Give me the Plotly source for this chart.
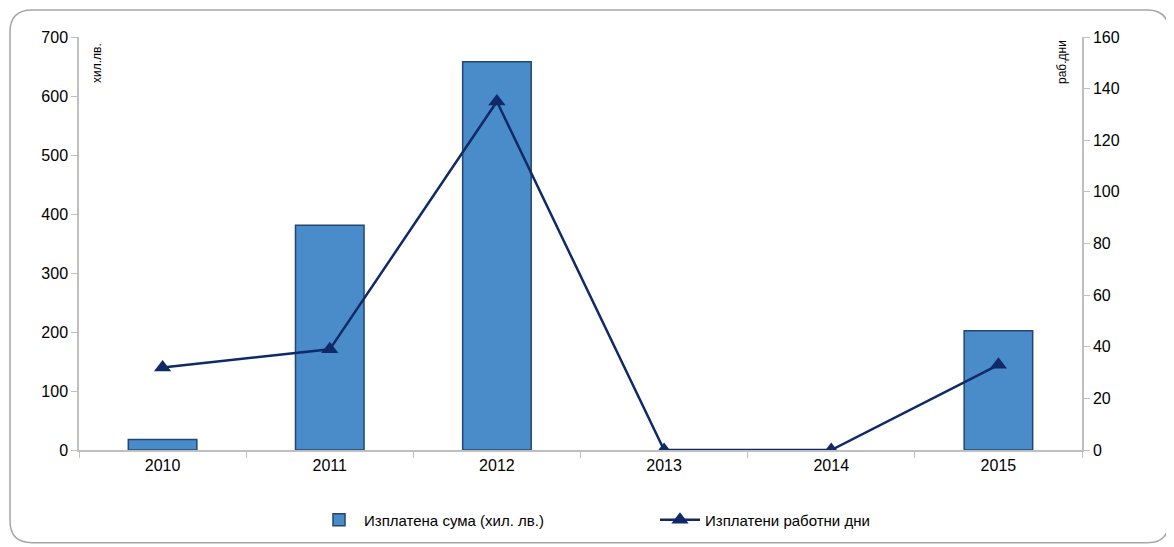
import plotly.graph_objects as go

years = ["2010", "2011", "2012", "2013", "2014", "2015"]
amount = [18, 381, 658, 0, 0, 202]          # хил. лв.
days = [32, 39, 135, 0, 0, 33]              # раб. дни

bar_name = "Изплатена сума (хил. лв.)"
line_name = "Изплатени работни дни"

# figure is drawn at an 8px page offset
W, H = 1166, 539
ml, mr, mt, mb = 71, 92, 29, 96
pw, ph = W - ml - mr, H - mt - mb

FONT = "Liberation Sans, Arial, sans-serif"

fig = go.Figure()
fig.add_trace(go.Bar(
    x=years, y=amount, name=bar_name, width=0.41,
    marker=dict(color="#4a8bca",
                line=dict(color="#23476f", width=[0 if v == 0 else 1.5 for v in amount])),
    yaxis="y",
))
fig.add_trace(go.Scatter(
    x=years, y=days, name=line_name, mode="lines+markers",
    line=dict(color="#0f2a66", width=2.5),
    marker=dict(symbol="triangle-up", size=15, color="#0f2a66"),
    yaxis="y2",
))

def px2x(p):
    return (p - ml) / pw

def px2y(p):
    return 1 - (p - mt) / ph

# rounded frame
x0, x1, y0, y1, r = 2, 1161, 2, 536, 22
path = (f"M {px2x(x0 + r)},{px2y(y0)} L {px2x(x1 - r)},{px2y(y0)} "
        f"Q {px2x(x1)},{px2y(y0)} {px2x(x1)},{px2y(y0 + r)} "
        f"L {px2x(x1)},{px2y(y1 - r)} Q {px2x(x1)},{px2y(y1)} {px2x(x1 - r)},{px2y(y1)} "
        f"L {px2x(x0 + r)},{px2y(y1)} Q {px2x(x0)},{px2y(y1)} {px2x(x0)},{px2y(y1 - r)} "
        f"L {px2x(x0)},{px2y(y0 + r)} Q {px2x(x0)},{px2y(y0)} {px2x(x0 + r)},{px2y(y0)} Z")
fig.add_shape(type="path", xref="paper", yref="paper",
              path=path, line=dict(color="#a6a6a6", width=1.5),
              fillcolor="rgba(0,0,0,0)", layer="below")

fig.update_layout(
    width=W, height=H,
    margin=dict(l=ml, r=mr, t=mt, b=mb),
    paper_bgcolor="white", plot_bgcolor="white",
    font=dict(family=FONT, size=16, color="#000000"),
    showlegend=True,
    legend=dict(orientation="h", x=px2x(306), xanchor="left", y=px2y(512), yanchor="middle",
                font=dict(size=15), itemwidth=40, traceorder="normal",
                entrywidthmode="pixels", entrywidth=286),
    bargap=0.59,
    xaxis=dict(type="category", showgrid=False, showline=True, linecolor="#bfbfbf",
               linewidth=1.5, ticks="outside", tickson="boundaries", ticklen=6,
               tickcolor="#bfbfbf", tickfont=dict(size=16)),
    yaxis=dict(range=[0, 700], dtick=100, showgrid=False, showline=True,
               linecolor="#bfbfbf", linewidth=1.5, ticks="outside", ticklen=6,
               tickcolor="#bfbfbf", zeroline=False, tickfont=dict(size=16)),
    yaxis2=dict(range=[0, 160], dtick=20, overlaying="y", side="right",
                showgrid=False, showline=True, linecolor="#bfbfbf", linewidth=1.5,
                ticks="outside", ticklen=6, tickcolor="#bfbfbf", zeroline=False,
                tickfont=dict(size=16)),
    annotations=[
        dict(text="хил.лв.", textangle=-90, xref="paper", yref="paper",
             x=px2x(89), y=px2y(33), xanchor="center", yanchor="top",
             showarrow=False, font=dict(size=12)),
        dict(text="раб.дни", textangle=-90, xref="paper", yref="paper",
             x=px2x(1054), y=px2y(30), xanchor="center", yanchor="top",
             showarrow=False, font=dict(size=12)),
    ],
)

fig.write_html("out.html")
